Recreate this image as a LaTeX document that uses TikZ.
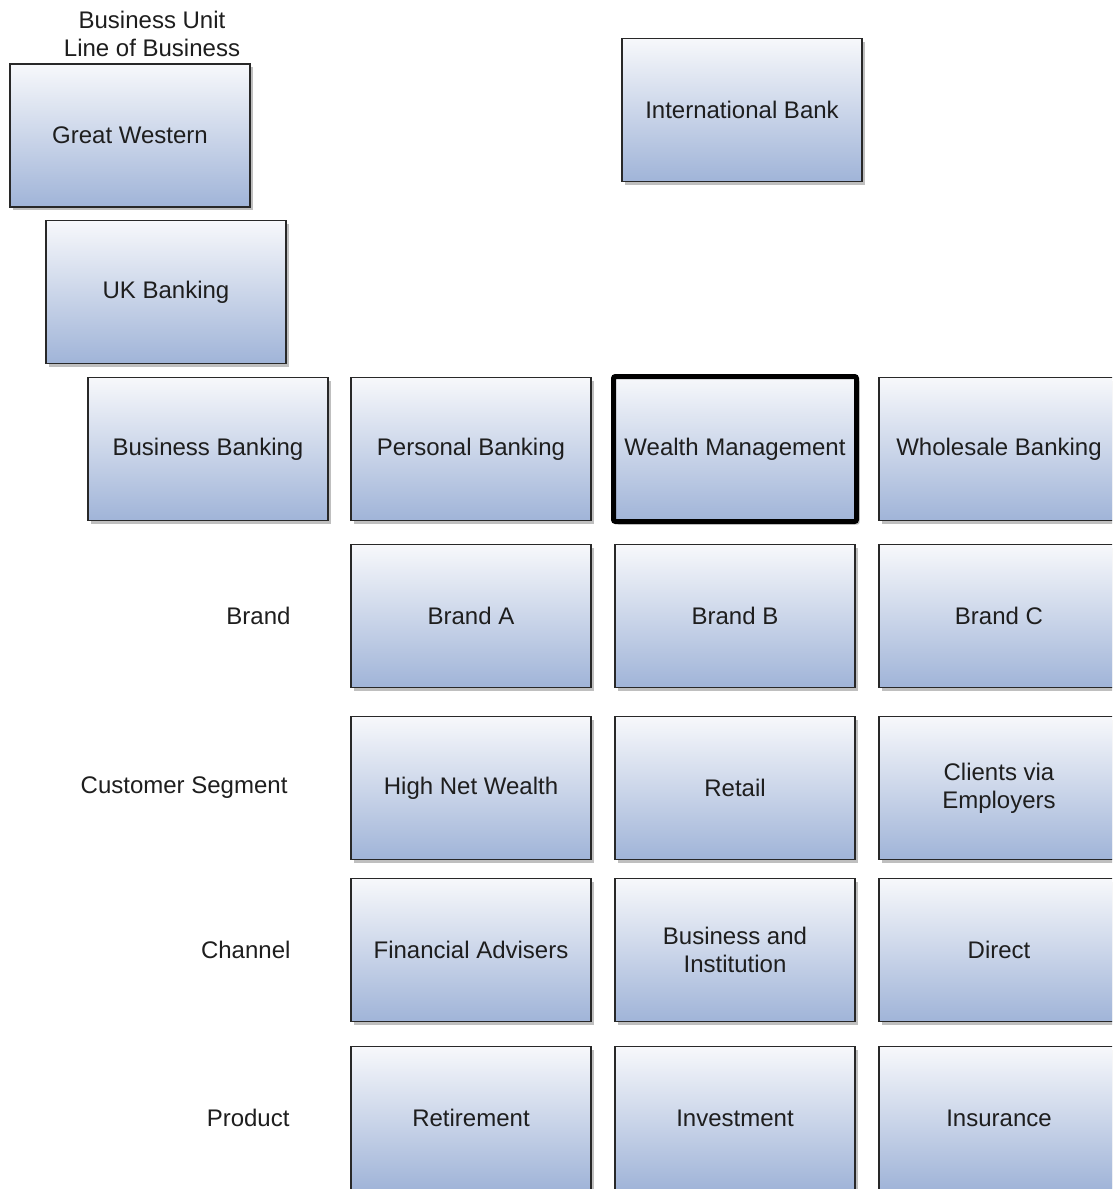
\documentclass[tikz,border=0pt]{standalone}
\usepackage{fontspec}
\setmainfont{Liberation Sans}
\usetikzlibrary{shadows}
\definecolor{boxtop}{RGB}{247,248,251}
\definecolor{boxbottom}{RGB}{160,180,216}
\definecolor{boxline}{RGB}{40,40,40}
\definecolor{labeltext}{RGB}{30,30,30}
\begin{document}
\begin{tikzpicture}[x=1pt,y=-1pt,
  font=\fontsize{24}{28}\selectfont,
  unit/.style={draw=boxline,line width=1.6pt,top color=boxtop,bottom color=boxbottom,
    minimum width=240pt,minimum height=143pt,inner sep=0pt,align=center,text=labeltext,
    drop shadow={shadow xshift=3pt,shadow yshift=-3pt,opacity=0.25,fill=black}},
  chosen/.style={unit,line width=5pt,rounded corners=2pt,draw=black,
    minimum width=243pt,minimum height=145pt},
  dimension/.style={anchor=east,text=labeltext}]
\clip (0,0) rectangle (1112,1189);
\fill[white] (0,0) rectangle (1112,1189);

\node[align=center,text=labeltext] (head) at (152,34) {Business Unit\\Line of Business};

\node[unit] (gw) at (130,135.5) {Great Western};
\node[unit] (ib) at (742,110) {International Bank};
\node[unit] (uk) at (166,292) {UK Banking};

\node[unit] (bb) at (208,449) {Business Banking};
\node[unit] (pb) at (471,449) {Personal Banking};
\node[chosen] (wm) at (735,449) {Wealth Management};
\node[unit] (wb) at (999,449) {Wholesale Banking};

\node[dimension] (brand) at (294,616) {Brand};
\node[unit] (ba) at (471,616) {Brand A};
\node[unit] (bbr) at (735,616) {Brand B};
\node[unit] (bc) at (999,616) {Brand C};

\node[dimension] (segment) at (291,788) {Customer Segment};
\node[unit] (hnw) at (471,788) {High Net Wealth};
\node[unit] (ret) at (735,788) {Retail};
\node[unit] (cve) at (999,788) {Clients via\\Employers};

\node[dimension] (channel) at (294,950) {Channel};
\node[unit] (fa) at (471,950) {Financial Advisers};
\node[unit] (bai) at (735,950) {Business and\\Institution};
\node[unit] (dir) at (999,950) {Direct};

\node[dimension] (product) at (293,1118) {Product};
\node[unit] (rtm) at (471,1118) {Retirement};
\node[unit] (inv) at (735,1118) {Investment};
\node[unit] (ins) at (999,1118) {Insurance};
\end{tikzpicture}
\end{document}
